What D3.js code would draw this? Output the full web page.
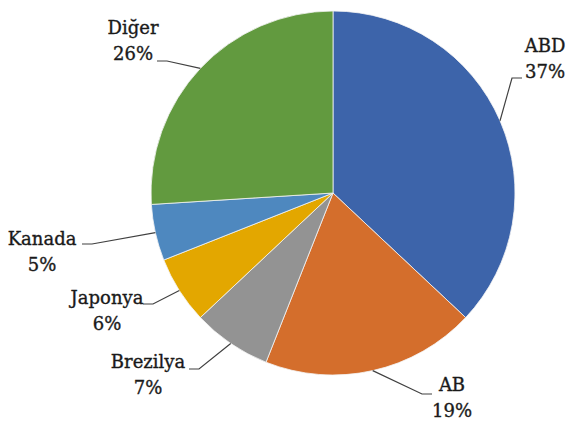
<!DOCTYPE html>
<html><head><meta charset="utf-8">
<script src="https://cdn.jsdelivr.net/npm/d3@7"></script>
<style>html,body{margin:0;padding:0;background:#fff;}svg{display:block;}</style>
</head><body>
<svg id="chart" width="569" height="423"></svg>
<script>
// Data
const categories = ["ABD", "AB", "Brezilya", "Japonya", "Kanada", "Diğer"];
const values = [37, 19, 7, 6, 5, 26];
const labels = ["37%", "19%", "7%", "6%", "5%", "26%"];
const colors = ["#3D64AA", "#D46E2C", "#939393", "#E3A700", "#4E88BF", "#629A3F"];

// Layout of data labels (text block centre relative to pie centre, and leader end side)
const labelLayout = [
  {dx: 212, dy: -147, side: -1, ex: 189, ey: -115},
  {dx: 119, dy: 192, side: -1, ex: 99, ey: 201},
  {dx: -185, dy: 169, side: 1, ex: -144, ey: 176},
  {dx: -226, dy: 105, side: 1, ex: -190, ey: 111},
  {dx: -291, dy: 46, side: 1, ex: -251, ey: 51},
  {dx: -200, dy: -165, side: 1, ex: -176, ey: -132}
];

const W = 569, H = 423;
const cx = 333, cy = 193, R = 182;
const svg = d3.select("#chart");
const g = svg.append("g").attr("transform", `translate(${cx},${cy})`);

const pie = d3.pie().sort(null).value(d => d.value);
const data = categories.map((c, i) => ({cat: c, value: values[i], label: labels[i], color: colors[i], lay: labelLayout[i]}));
const arcs = pie(data);
const arc = d3.arc().innerRadius(0).outerRadius(R);
const edgeArc = d3.arc().innerRadius(R).outerRadius(R);

g.selectAll("path.slice").data(arcs).join("path")
  .attr("class", "slice")
  .attr("d", arc)
  .attr("fill", d => d.data.color)
  .attr("stroke", "#f4f4f4")
  .attr("stroke-width", 0.8);

// Leader lines
const line = d3.line();
g.selectAll("path.leader").data(arcs).join("path")
  .attr("class", "leader")
  .attr("fill", "none")
  .attr("stroke", "#404040")
  .attr("stroke-width", 1.2)
  .attr("d", d => {
    const p0 = edgeArc.centroid(d);
    const L = d.data.lay;
    const p2 = [L.ex, L.ey];
    const p1 = [L.ex + L.side * 10, L.ey];
    return line([p0, p1, p2]);
  });

// Labels
const lbl = g.selectAll("text.lbl").data(arcs).join("text")
  .attr("class", "lbl")
  .attr("text-anchor", "middle")
  .attr("font-family", "'DejaVu Serif', serif")
  .attr("font-size", 18)
  .attr("fill", "#1a1a1a")
  .attr("stroke", "#1a1a1a")
  .attr("stroke-width", 0.35)
  .attr("x", d => d.data.lay.dx)
  .attr("y", d => d.data.lay.dy);
lbl.append("tspan").attr("x", d => d.data.lay.dx).attr("dy", "0.35em").text(d => d.data.cat);
lbl.append("tspan").attr("x", d => d.data.lay.dx).attr("dy", 26).text(d => d.data.label);
</script>
</body></html>
